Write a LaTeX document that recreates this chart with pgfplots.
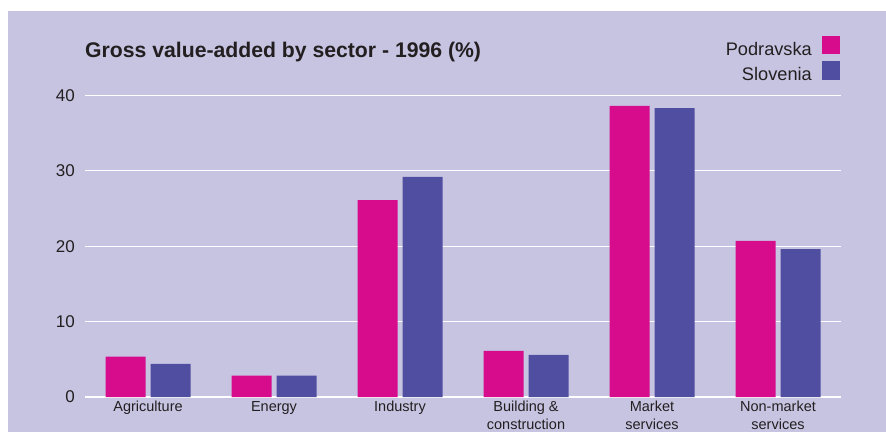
\documentclass[border=0pt]{standalone}
\usepackage{pgfplots}
\pgfplotsset{compat=1.18}
\usepackage{fontspec}
\setmainfont{Liberation Sans}
\definecolor{bg}{RGB}{199,196,226}
\definecolor{pinkc}{RGB}{214,12,140}
\definecolor{bluc}{RGB}{79,78,160}
\definecolor{txt}{RGB}{35,31,32}
\pgfplotsset{sqlegend/.style={legend image code/.code={\fill[##1] (0pt,-5pt) rectangle (18pt,13.5pt);}}}
\begin{document}
\begin{tikzpicture}[x=1pt,y=1pt]
\path[use as bounding box] (0,0) rectangle (886,432);
\fill[white] (0,0) rectangle (886,432);
\fill[bg] (8,0) rectangle (886,421);
\node[anchor=base west, inner sep=0pt, font=\bfseries\fontsize{21.2}{24}\selectfont, text=txt] at (85,374.5) {Gross value-added by sector - 1996 (\%)};
\begin{axis}[
  at={(85pt,35pt)}, anchor=south west,
  scale only axis, width=756pt, height=301.7pt,
  xmin=-0.5, xmax=5.5, ymin=0, ymax=40,
  ybar, bar width=40pt,
  axis line style={draw=none},
  major tick length=0pt,
  ytick={0,10,20,30,40},
  ymajorgrids, grid style={white, line width=1.3pt},
  xtick={0,...,5},
  xticklabels={Agriculture, Energy, Industry, {Building \&\\construction}, {Market\\services}, {Non-market\\services}},
  xticklabel style={align=center, font=\fontsize{14.5}{18}\selectfont, text=txt, inner sep=0pt, yshift=-4pt, anchor=north},
  yticklabel style={font=\fontsize{17}{17}\selectfont, text=txt, inner sep=0pt, xshift=-10pt},
  /pgf/number format/assume math mode=true,
  legend plot pos=right,
  legend cell align=right,
  legend style={at={(rel axis cs:1,1)}, anchor=south east, xshift=-1pt, yshift=13pt,
    draw=none, fill=none, inner sep=0pt, row sep=4.5pt,
    font=\fontsize{18.2}{18.2}\selectfont, text=txt,
    nodes={inner sep=0pt},
    /tikz/every odd column/.append style={column sep=10pt}},
]
\addplot[fill=pinkc, draw=none, bar shift=-22.5pt, sqlegend]
  coordinates {(0,5.35) (1,2.85) (2,26.1) (3,6.1) (4,38.6) (5,20.7)};
\addplot[fill=bluc, draw=none, bar shift=22.5pt, sqlegend]
  coordinates {(0,4.4) (1,2.85) (2,29.2) (3,5.6) (4,38.3) (5,19.6)};
\legend{Podravska, Slovenia}
\end{axis}
\end{tikzpicture}
\end{document}
